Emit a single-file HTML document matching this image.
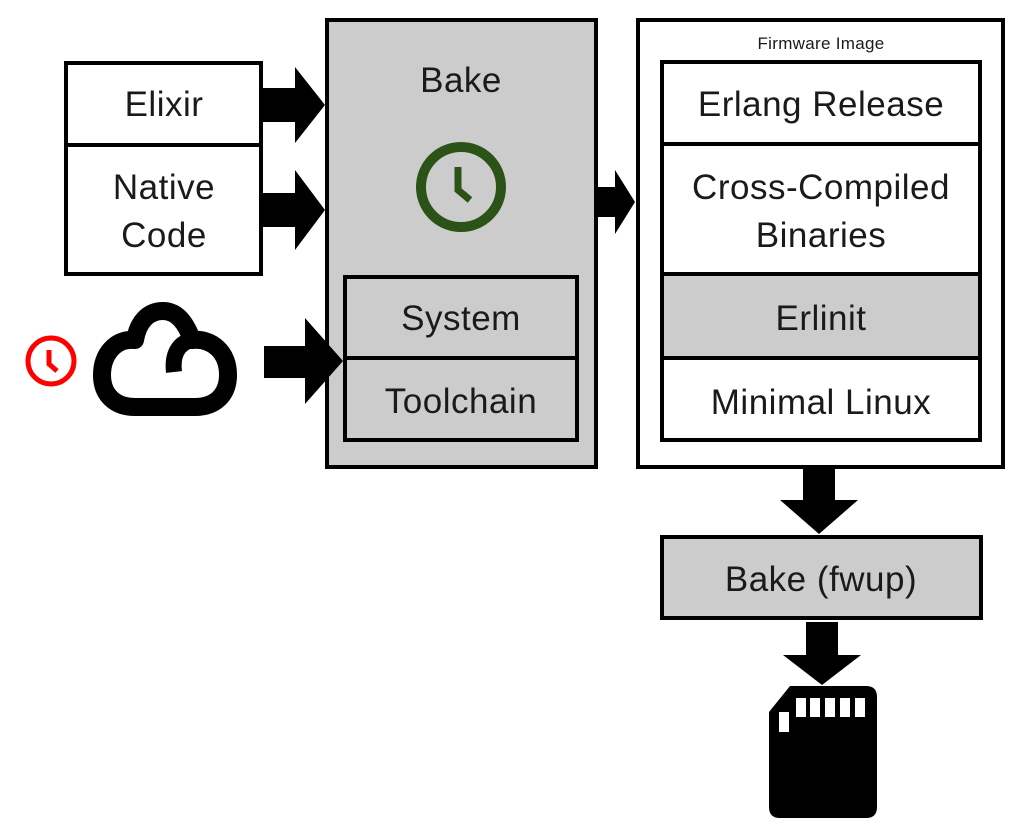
<!DOCTYPE html>
<html><head><meta charset="utf-8"><style>html,body{margin:0;padding:0;background:#fff}svg{display:block}text{font-family:"Liberation Sans",sans-serif;fill:#1a1a1a}</style></head>
<body>
<svg width="1024" height="831" viewBox="0 0 1024 831" xmlns="http://www.w3.org/2000/svg">
<g stroke="#000" stroke-width="4">
<rect x="66" y="63" width="195" height="82" fill="#fff"/>
<rect x="66" y="145" width="195" height="129" fill="#fff"/>
<rect x="327" y="20" width="269" height="447" fill="#ccc"/>
<rect x="345" y="277" width="232" height="81" fill="#ccc"/>
<rect x="345" y="358" width="232" height="82" fill="#ccc"/>
<rect x="638" y="20" width="365" height="447" fill="#fff"/>
<rect x="662" y="62" width="318" height="82" fill="#fff"/>
<rect x="662" y="144" width="318" height="130" fill="#fff"/>
<rect x="662" y="274" width="318" height="84" fill="#ccc"/>
<rect x="662" y="358" width="318" height="82" fill="#fff"/>
<rect x="662" y="537" width="319" height="81" fill="#ccc"/>
</g>
<g font-size="35" text-anchor="middle" letter-spacing="0.5">
<text x="164" y="116">Elixir</text>
<text x="164" y="199">Native</text>
<text x="164" y="247">Code</text>
<text x="461" y="92">Bake</text>
<text x="461" y="330">System</text>
<text x="461" y="413">Toolchain</text>
<text x="821" y="116">Erlang Release</text>
<text x="821" y="199">Cross-Compiled</text>
<text x="821" y="247">Binaries</text>
<text x="821" y="330">Erlinit</text>
<text x="821" y="414">Minimal Linux</text>
<text x="821" y="591">Bake (fwup)</text>
<text x="821" y="49" font-size="17" letter-spacing="0.3">Firmware Image</text>
</g>
<g fill="#000">
<polygon points="262,88 295,88 295,67 325,105 295,143 295,122 262,122"/>
<polygon points="262,193 295,193 295,170 325,210 295,250 295,227 262,227"/>
<polygon points="264,346 305,346 305,318 343,361 305,404 305,378 264,378"/>
<polygon points="597,187 615,187 615,170 635,202 615,234 615,217 597,217"/>
<polygon points="803,468 835,468 835,500 858,500 819,534 780,500 803,500"/>
<polygon points="806,622 838,622 838,655 861,655 822,685 783,655 806,655"/>
<path d="M790,686 L866,686 Q877,686 877,697 L877,807 Q877,818 866,818 L780,818 Q769,818 769,807 L769,712 Z"/>
</g>
<g fill="#fff">
<rect x="796" y="698" width="10" height="19"/>
<rect x="810" y="698" width="10" height="19"/>
<rect x="825" y="698" width="10" height="19"/>
<rect x="840" y="698" width="10" height="19"/>
<rect x="855" y="698" width="10" height="19"/>
<rect x="779" y="712" width="10" height="20"/>
</g>
<circle cx="461" cy="187" r="40" fill="none" stroke="#2b5217" stroke-width="10"/>
<path d="M458,167 L458,190 L470,200" fill="none" stroke="#2b5217" stroke-width="7"/>
<circle cx="51" cy="361" r="23" fill="none" stroke="#f00" stroke-width="5"/>
<path d="M49,350 L49,364 L57,371" fill="none" stroke="#f00" stroke-width="5"/>
<path d="M135,407 L195,407 C215,407 228,395 228,375 C228,352 212,338 192,340 C185,320 175,311 163,311 C148,311 138,322 135,340 C115,338 102,355 102,375 C102,395 115,407 135,407 Z" fill="none" stroke="#000" stroke-width="18" stroke-linejoin="round"/>
<path d="M174,372 C172,355 178,343 192,340" fill="none" stroke="#000" stroke-width="16"/>
</svg>
</body></html>
